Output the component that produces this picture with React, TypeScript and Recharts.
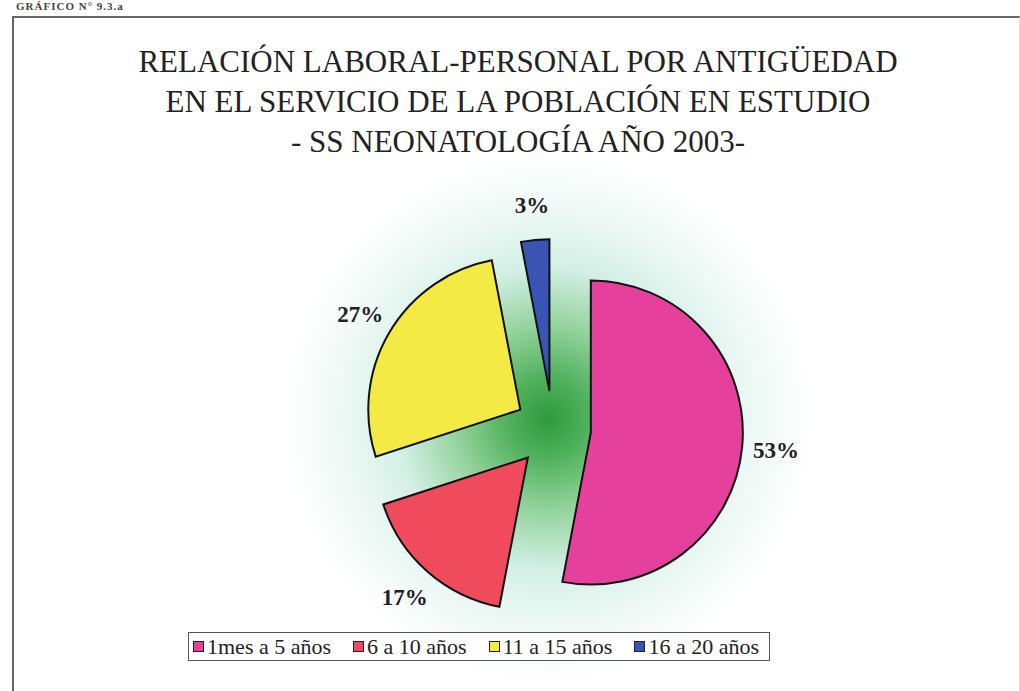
import { PieChart, Pie, Cell, Sector, Legend } from "recharts";

const categories = ["1mes a 5 años", "6 a 10 años", "11 a 15 años", "16 a 20 años"];
const shares = [53, 17, 27, 3];
const colors = ["#e6409d", "#ef4b5c", "#f4ea45", "#3a54b4"];

const titleLines = [
  "RELACIÓN LABORAL-PERSONAL POR ANTIGÜEDAD",
  "EN EL SERVICIO DE LA POBLACIÓN EN ESTUDIO",
  "- SS NEONATOLOGÍA AÑO 2003-",
];

const data = categories.map((name, i) => ({ name, value: shares[i] }));

const RAD = Math.PI / 180;
const EXPLODE = 38;
const serif = "'Liberation Serif', 'Times New Roman', serif";

// every slice pulled out from the centre, like the Excel original
const ExplodedSector = (props: any) => {
  const { cx, cy, midAngle } = props;
  const dx = EXPLODE * Math.cos(-midAngle * RAD);
  const dy = EXPLODE * Math.sin(-midAngle * RAD);
  return <Sector {...props} cx={cx + dx} cy={cy + dy} />;
};

const renderLabel = (props: any) => {
  const { cx, cy, midAngle, outerRadius, value } = props;
  const r = outerRadius + 72;
  const x = cx + r * Math.cos(-midAngle * RAD);
  const y = cy + r * Math.sin(-midAngle * RAD);
  return (
    <text
      x={x}
      y={y}
      textAnchor="middle"
      dominantBaseline="central"
      fontFamily={serif}
      fontWeight="bold"
      fontSize={23}
      fill="#222"
    >
      {`${value}%`}
    </text>
  );
};

const LegendBox = () => (
  <div
    style={{
      display: "flex",
      alignItems: "center",
      gap: 22,
      border: "1px solid #555",
      padding: "0 10px 0 4px",
      height: 27,
      fontFamily: serif,
      fontSize: 22,
      color: "#222",
      background: "#fff",
      whiteSpace: "nowrap",
    }}
  >
    {categories.map((c, i) => (
      <span key={c} style={{ display: "flex", alignItems: "center", gap: 3 }}>
        <span
          style={{
            width: 9,
            height: 9,
            background: colors[i],
            border: "1.5px solid #222",
            display: "inline-block",
          }}
        />
        {c}
      </span>
    ))}
  </div>
);

export default function App() {
  return (
    <div
      style={{
        position: "absolute",
        left: 0,
        top: 0,
        width: 1020,
        height: 691,
        background: "#fff",
        overflow: "hidden",
        fontFamily: serif,
      }}
    >
      <div
        style={{
          position: "absolute",
          left: 16,
          top: 0,
          fontFamily: serif,
          fontWeight: "bold",
          fontSize: 11,
          lineHeight: "12px",
          letterSpacing: 1,
          color: "#444",
        }}
      >
        GRÁFICO N° 9.3.a
      </div>
      <div
        style={{
          position: "absolute",
          left: 12,
          top: 16,
          width: 1005,
          height: 700,
          borderLeft: "2px solid #666",
          borderTop: "2px solid #666",
          borderRight: "1px solid #ddd",
        }}
      />
      <div
        style={{
          position: "absolute",
          left: 0,
          top: 0,
          width: 1020,
          height: 691,
          background:
            "radial-gradient(circle 265px at 548px 418px, #2f9a3f 0%, #4fb15c 15%, #94d39d 35%, #d3efe6 57%, #eef9f6 78%, rgba(255,255,255,0) 100%)",
        }}
      />
      <div
        style={{
          position: "absolute",
          left: 0,
          top: 42,
          width: 1036,
          textAlign: "center",
          fontFamily: serif,
          fontSize: 31,
          lineHeight: "40px",
          color: "#222",
        }}
      >
        {titleLines.map((t) => (
          <div key={t}>{t}</div>
        ))}
      </div>
      <div style={{ position: "absolute", left: 0, top: 0 }}>
        <PieChart width={1020} height={691}>
          <Pie
            data={data}
            dataKey="value"
            nameKey="name"
            cx={548}
            cy={424}
            outerRadius={152}
            startAngle={90}
            endAngle={-270}
            stroke="#111"
            strokeWidth={2}
            shape={ExplodedSector}
            label={renderLabel}
            labelLine={false}
            isAnimationActive={false}
          >
            {data.map((d, i) => (
              <Cell key={d.name} fill={colors[i]} />
            ))}
          </Pie>
          <Legend
            content={() => <LegendBox />}
            wrapperStyle={{ position: "absolute", left: 188, top: 632, width: "auto" }}
          />
        </PieChart>
      </div>
    </div>
  );
}
